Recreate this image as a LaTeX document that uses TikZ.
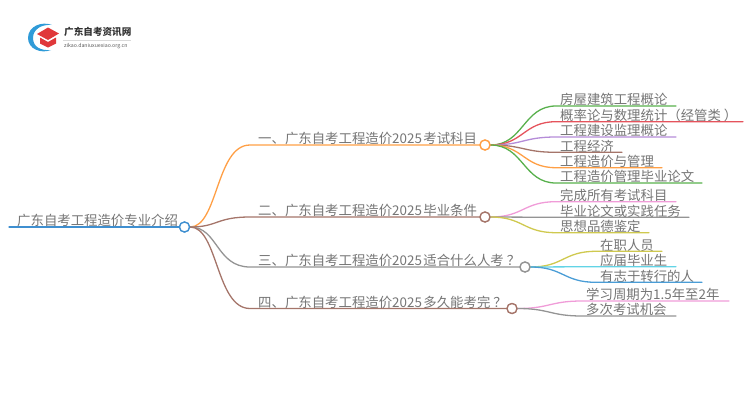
\documentclass[tikz,border=0pt]{standalone}
\usepackage{fontspec}
\setmainfont{Noto Sans CJK SC}
\begin{document}
\begin{tikzpicture}[x=1pt,y=-1pt,
  label/.style={font=\fontsize{13.4}{14}\selectfont,text=black!54,anchor=south west,inner xsep=0pt,inner ysep=0pt,text height=12pt,text depth=0.5pt},
  conn/.style={line width=1.3pt,line cap=round},
  hub/.style={circle,draw,fill=white,line width=1.3pt,minimum width=10pt,minimum height=8pt,inner sep=0pt},
]
\path[use as bounding box] (0,0) rectangle (750,410);
\definecolor{cRoot}{HTML}{3F8FD0}
\definecolor{cOrange}{HTML}{FF9F45}
\definecolor{cBrown}{HTML}{A5756A}
\definecolor{cGrey}{HTML}{949494}
\definecolor{cGreen}{HTML}{58B04C}
\definecolor{cRed}{HTML}{E5535C}
\definecolor{cPurple}{HTML}{B58CD8}
\definecolor{cPink}{HTML}{F09CD8}
\definecolor{cOlive}{HTML}{CFC94F}
\definecolor{cCyan}{HTML}{62D4E6}
\definecolor{cBlue}{HTML}{4A9DD6}
\definecolor{cLogoBlue}{HTML}{2F9BD8}
\definecolor{cLogoRed}{HTML}{E0383A}
% logo
\fill[cLogoBlue] (52,25) .. controls (42,21) and (28,26) .. (28,38) .. controls (28,49) and (41,54) .. (51,50)
   .. controls (41,51) and (33,47) .. (33,38) .. controls (33,29) and (42,24) .. (52,25) -- cycle;
\fill[cLogoRed] (37,34) -- (48,27.5) -- (59,33.5) -- (48,40) -- cycle;
\fill[cLogoRed] (40,37.5) -- (48,42) -- (56,37.5) -- (56,43.5) -- (48,47.5) -- (40,43.5) -- cycle;
\node[font=\fontsize{9.6}{10}\selectfont\bfseries,text=black!80,inner sep=0pt,anchor=west] (logotext) at (64,31.5) {广东自考资讯网};
\node[font=\fontsize{5.2}{6}\selectfont,text=black!65,inner sep=0pt,anchor=west] (logourl) at (64,46.5) {zikao.daniuxuexiao.org.cn};
\draw[black!15,line width=0.5pt] (63,40) -- (131,40);
% hubs
\coordinate (rootc) at (184.5,227);
\coordinate (b1c) at (485,145);
\coordinate (b2c) at (485,217);
\coordinate (b3c) at (525,267);
\coordinate (b4c) at (512,308.5);
\node[hub,draw=cRoot] (root) at (rootc) {};
\node[hub,draw=cOrange] (b1) at (b1c) {};
\node[hub,draw=cBrown] (b2) at (b2c) {};
\node[hub,draw=cGrey] (b3) at (b3c) {};
\node[hub,draw=cBrown] (b4) at (b4c) {};
% root text
\node[label] (roottext) at (17,226.5) {广东自考工程造价专业介绍};
\coordinate (rootstart) at (9,227);
\draw[conn,cRoot] (rootstart) -- (root.west);
% branches
\newcommand{\branch}[6]{% name, hub, y, text x, colour, text
  \node[label] (#1) at (#4,#3-0.5) {#6};
  \coordinate (#1s) at (250,#3);
  \draw[conn,#5] (root.east) .. controls (218,227) and (216,#3) .. (#1s) -- (#2.west);
}
\branch{t1}{b1}{145}{258}{cOrange}{一、广东自考工程造价2025\hspace{1.5pt}考试科目}
\branch{t2}{b2}{217}{258}{cBrown}{二、广东自考工程造价2025\hspace{1.5pt}毕业条件}
\branch{t3}{b3}{267}{258}{cGrey}{三、广东自考工程造价2025\hspace{1.5pt}适合什么人考\hspace{3pt}？}
\branch{t4}{b4}{308.5}{258}{cBrown}{四、广东自考工程造价2025\hspace{1.5pt}多久能考完\hspace{3pt}？}
% leaves
\newcommand{\leaf}[7]{% name, hub, x0, x1, y, colour, text
  \coordinate (#1s) at (#3,#5);
  \coordinate (#1e) at (#4,#5);
  \node[label] (#1) at (#3+4,#5-0.5) {#7};
  \path (#2.east); \pgfgetlastxy{\hx}{\hy}
  \draw[conn,#6] (#2.east) .. controls (\hx+0.5*#3pt-0.5*\hx,\hy) and (\hx+0.5*#3pt-0.5*\hx,#5pt*-1) .. (#1s) -- (#1e);
}
\leaf{a1}{b1}{556}{676}{106}{cGreen}{房屋建筑工程概论}
\leaf{a2}{b1}{556}{743}{121.7}{cRed}{概率论与数理统计（经管类\hspace{3pt}）}
\leaf{a3}{b1}{556}{676}{137}{cPurple}{工程建设监理概论}
\leaf{a4}{b1}{556}{622}{152.3}{cBrown}{工程经济}
\leaf{a5}{b1}{556}{662}{167.7}{cOrange}{工程造价与管理}
\leaf{a6}{b1}{556}{702}{183}{cGreen}{工程造价管理毕业论文}
\leaf{c1}{b2}{556}{676}{201.7}{cPink}{完成所有考试科目}
\leaf{c2}{b2}{556}{689}{217.3}{cGrey}{毕业论文或实践任务}
\leaf{c3}{b2}{556}{649}{232.7}{cOlive}{思想品德鉴定}
\leaf{d1}{b3}{596}{662}{251.3}{cOlive}{在职人员}
\leaf{d2}{b3}{596}{676}{266.7}{cCyan}{应届毕业生}
\leaf{d3}{b3}{596}{702}{282.3}{cBlue}{有志于转行的人}
\leaf{e1}{b4}{582}{729}{301}{cPink}{学习周期为1.5年至2年}
\leaf{e2}{b4}{582}{676}{316}{cGrey}{多次考试机会}
% redraw hubs on top
\node[hub,draw=cRoot] at (rootc) {};
\node[hub,draw=cOrange] at (b1c) {};
\node[hub,draw=cBrown] at (b2c) {};
\node[hub,draw=cGrey] at (b3c) {};
\node[hub,draw=cBrown] at (b4c) {};
\end{tikzpicture}
\end{document}
